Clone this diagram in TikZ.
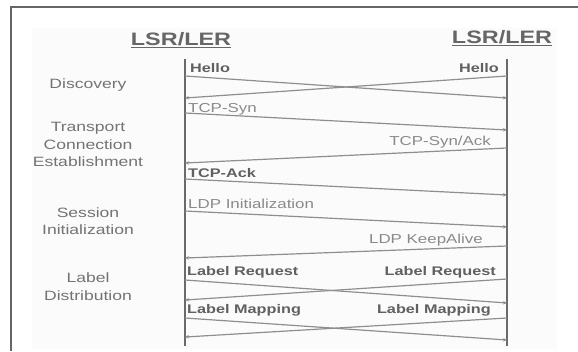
\documentclass[tikz,border=0pt]{standalone}
\usepackage{fontspec}
\setmainfont{Liberation Sans}[FakeStretch=1.3]
\usetikzlibrary{arrows.meta}
\definecolor{framec}{HTML}{666666}
\definecolor{lifec}{HTML}{6A6A6A}
\definecolor{msgc}{HTML}{8E8E8E}
\definecolor{darktxt}{HTML}{606060}
\definecolor{lighttxt}{HTML}{8A8A8A}
\definecolor{phasetxt}{HTML}{737373}
\tikzset{
  lifeline/.style={draw=lifec, line width=2pt},
  msg/.style={draw=msgc, line width=1.2pt, -{Stealth[length=4pt,width=3.5pt]}},
  mlabel/.style={font=\fontsize{13}{15}\selectfont, inner sep=0pt},
  dlab/.style={mlabel, font=\bfseries\fontsize{12.5}{15}\selectfont, text=darktxt},
  llab/.style={mlabel, text=lighttxt},
  phase/.style={font=\fontsize{13.5}{17.5}\selectfont, text=phasetxt, align=center, inner sep=0pt},
  title/.style={font=\bfseries\fontsize{18}{20}\selectfont, text=framec, inner sep=0pt}
}
\begin{document}
\begin{tikzpicture}[x=1pt,y=-1pt]
\useasboundingbox (0,0) rectangle (578,351);
\fill[white] (0,0) rectangle (578,351);
\fill[black!1.5] (32,28) rectangle (557,349);
% frame
\draw[framec, line width=2pt] (11,351) -- (11,7) -- (578,7);
% titles
\node[title] (tl) at (181,40) {\underline{LSR/LER}};
\node[title] (tr) at (502,38) {\underline{LSR/LER}};
% lifelines
\coordinate (Ltop) at (185,59);
\coordinate (Lbot) at (185,346);
\coordinate (Rtop) at (507,59);
\coordinate (Rbot) at (507,346);
\draw[lifeline] (Ltop) -- (Lbot);
\draw[lifeline] (Rtop) -- (Rbot);
% message endpoints
\coordinate (m1s) at (185,76);  \coordinate (m1e) at (507,98);
\coordinate (m2s) at (507,76);  \coordinate (m2e) at (185,98);
\coordinate (m3s) at (185,113); \coordinate (m3e) at (507,130);
\coordinate (m4s) at (507,148); \coordinate (m4e) at (185,163);
\coordinate (m5s) at (185,179); \coordinate (m5e) at (507,195);
\coordinate (m6s) at (185,211); \coordinate (m6e) at (507,227);
\coordinate (m7s) at (507,246); \coordinate (m7e) at (185,258);
\coordinate (m8s) at (185,280); \coordinate (m8e) at (507,303);
\coordinate (m9s) at (507,279); \coordinate (m9e) at (185,300);
\coordinate (m10s) at (185,318); \coordinate (m10e) at (507,340);
\coordinate (m11s) at (507,318); \coordinate (m11e) at (185,337);
\foreach \i in {1,...,11} \draw[msg] (m\i s) -- (m\i e);
% message labels
\node[dlab, anchor=base west] (hl) at (190,72) {Hello};
\node[dlab, anchor=base east] (hr) at (499,72) {Hello};
\node[llab, anchor=base west] (syn) at (188,112) {TCP-Syn};
\node[llab, anchor=base east] (synack) at (491,145) {TCP-Syn/Ack};
\node[dlab, anchor=base west] (ack) at (188,177) {TCP-Ack};
\node[llab, anchor=base west] (ldpi) at (188,208) {LDP Initialization};
\node[llab, anchor=base east] (ldpk) at (483,243) {LDP KeepAlive};
\node[dlab, anchor=base west] (lrl) at (187,275) {Label Request};
\node[dlab, anchor=base east] (lrr) at (496,275) {Label Request};
\node[dlab, anchor=base west] (lml) at (187,313) {Label Mapping};
\node[dlab, anchor=base east] (lmr) at (491,313) {Label Mapping};
% phase labels
\node[phase] (p1) at (88,85) {Discovery};
\node[phase] (p2) at (88,144.5) {Transport\\Connection\\Establishment};
\node[phase] (p3) at (88,221) {Session\\Initialization};
\node[phase] (p4) at (88,286.5) {Label\\Distribution};
\end{tikzpicture}
\end{document}
